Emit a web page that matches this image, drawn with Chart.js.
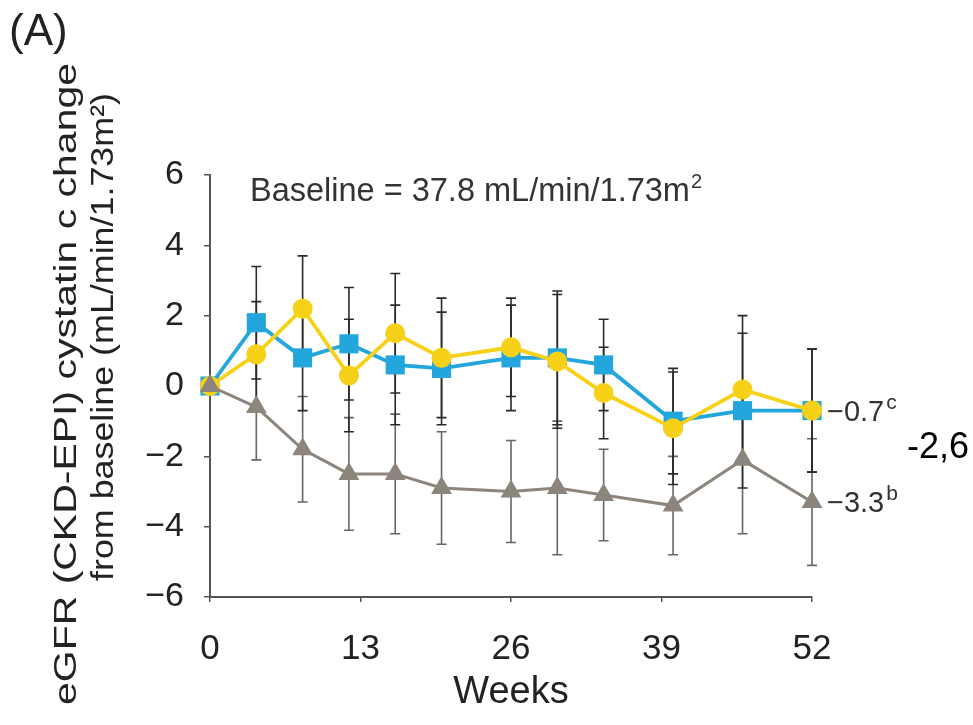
<!DOCTYPE html>
<html>
<head>
<meta charset="utf-8">
<script src="https://cdn.jsdelivr.net/npm/chart.js@4.4.1/dist/chart.umd.min.js"></script>
<style>
  html, body { margin: 0; padding: 0; background: #ffffff; }
  #wrap { width: 973px; height: 725px; position: relative; }
</style>
</head>
<body>
<div id="wrap"><canvas id="c" width="973" height="725"></canvas></div>
<script>
// ---- Data ----
const weeks = [0, 4, 8, 12, 16, 20, 26, 30, 34, 40, 46, 52];

const blueValues   = [0, 1.8, 0.8, 1.2, 0.6, 0.5, 0.8, 0.8, 0.6, -1.0, -0.7, -0.7];
const blueErrors   = [0, 1.6, 1.5, 1.6, 1.7, 1.6, 1.5, 1.9, 1.3, 1.5, 2.2, 1.75];

const yellowValues = [0, 0.9, 2.2, 0.3, 1.5, 0.8, 1.1, 0.7, -0.2, -1.2, -0.1, -0.7];
const yellowErrors = [0, 1.5, 1.5, 1.6, 1.7, 1.7, 1.4, 1.9, 1.3, 1.6, 2.1, 1.75];

const grayValues   = [0, -0.6, -1.8, -2.5, -2.5, -2.9, -3.0, -2.9, -3.1, -3.4, -2.1, -3.3];
const grayErrors   = [0, 1.5, 1.5, 1.6, 1.7, 1.6, 1.45, 1.9, 1.3, 1.4, 2.1, 1.8];

const xTickValues = [0, 13, 26, 39, 52];
const xTickLabels = ['0', '13', '26', '39', '52'];
const yTickValues = [-6, -4, -2, 0, 2, 4, 6];
const yTickLabels = ['\u22126', '\u22124', '\u22122', '0', '2', '4', '6'];

const panelLabel = '(A)';
const yTitleLines = ['eGFR (CKD-EPI) cystatin c change', 'from baseline (mL/min/1.73m\u00B2)'];
const xTitle = 'Weeks';
const baselineText = 'Baseline = 37.8 mL/min/1.73m';
const blueEndLabel = '\u22120.7';
const grayEndLabel = '\u22123.3';
const sideNote = '-2,6';

const FONT = "'Liberation Sans', Arial, sans-serif";

function pts(vals) { return weeks.map((w, i) => ({ x: w, y: vals[i] })); }

const errorBarPlugin = {
  id: 'errorBars',
  beforeDatasetsDraw(chart) {
    const { ctx, scales: { x, y } } = chart;
    chart.data.datasets.forEach((ds) => {
      if (!ds.errors) return;
      ctx.save();
      ctx.strokeStyle = ds.errorColor;
      ctx.lineWidth = 1.6;
      ds.data.forEach((p, j) => {
        const e = ds.errors[j];
        if (!e) return;
        const px = x.getPixelForValue(p.x);
        const top = y.getPixelForValue(p.y + e);
        const bot = y.getPixelForValue(p.y - e);
        ctx.beginPath();
        ctx.moveTo(px, top); ctx.lineTo(px, bot);
        ctx.moveTo(px - 5, top); ctx.lineTo(px + 5, top);
        ctx.moveTo(px - 5, bot); ctx.lineTo(px + 5, bot);
        ctx.stroke();
      });
      ctx.restore();
    });
  }
};

const textPlugin = {
  id: 'texts',
  afterDraw(chart) {
    const { ctx, scales: { x, y } } = chart;
    ctx.save();
    ctx.fillStyle = '#222';
    ctx.textBaseline = 'alphabetic';

    // panel label
    ctx.font = '44px ' + FONT;
    ctx.textAlign = 'left';
    ctx.fillText(panelLabel, 9, 45);

    // y-axis title (two rotated lines)
    ctx.font = '32px ' + FONT;
    ctx.textAlign = 'center';
    const placement = [[76, 384, 642], [113, 337, 488]]; // baseline x, centre y, length
    yTitleLines.forEach((line, i) => {
      const natural = ctx.measureText(line).width;
      ctx.save();
      ctx.translate(placement[i][0], placement[i][1]);
      ctx.rotate(-Math.PI / 2);
      ctx.scale(placement[i][2] / natural, 1);
      ctx.fillText(line, 0, 0);
      ctx.restore();
    });

    // x-axis title
    ctx.font = '38px ' + FONT;
    ctx.textAlign = 'center';
    ctx.fillText(xTitle, (x.left + x.right) / 2, 703);

    // baseline note
    ctx.font = '32.5px ' + FONT;
    ctx.textAlign = 'left';
    ctx.fillStyle = '#333';
    ctx.fillText(baselineText, 250, 201);
    let w = ctx.measureText(baselineText).width;
    ctx.font = '20px ' + FONT;
    ctx.fillText('2', 250 + w + 1, 188);

    // end-of-line labels
    const xe = x.getPixelForValue(weeks[weeks.length - 1]) + 15;
    const drawEnd = (txt, sup, val) => {
      const py = y.getPixelForValue(val) + 10;
      ctx.font = '29px ' + FONT;
      ctx.fillText(txt, xe, py);
      const ww = ctx.measureText(txt).width;
      ctx.font = '21px ' + FONT;
      ctx.fillText(sup, xe + ww + 2, py - 12);
    };
    drawEnd(blueEndLabel, 'c', blueValues[blueValues.length - 1]);
    drawEnd(grayEndLabel, 'b', grayValues[grayValues.length - 1]);

    // side note
    ctx.fillStyle = '#000';
    ctx.font = '36px ' + FONT;
    ctx.fillText(sideNote, 907, 458);
    ctx.restore();
  }
};

new Chart(document.getElementById('c'), {
  type: 'line',
  data: {
    datasets: [
      {
        label: 'Gray group', data: pts(grayValues), errors: grayErrors, errorColor: '#666',
        borderColor: '#8c857c', backgroundColor: '#8c857c', borderWidth: 3,
        pointStyle: 'triangle', pointRadius: 12, pointBorderWidth: 0, order: 1, clip: false
      },
      {
        label: 'Yellow group', data: pts(yellowValues), errors: yellowErrors, errorColor: '#2a2a2a',
        borderColor: '#f7d117', backgroundColor: '#f7d117', borderWidth: 3.8,
        pointStyle: 'circle', pointRadius: 10, pointBorderWidth: 0, order: 2, clip: false
      },
      {
        label: 'Blue group', data: pts(blueValues), errors: blueErrors, errorColor: '#2a2a2a',
        borderColor: '#22a6dc', backgroundColor: '#22a6dc', borderWidth: 3.8,
        pointStyle: 'rect', pointRadius: 13.5, pointBorderWidth: 0, order: 3, clip: false
      }
    ]
  },
  options: {
    responsive: false,
    animation: false,
    devicePixelRatio: 1,
    layout: { padding: { top: 175, right: 161, left: 0, bottom: 0 } },
    plugins: { legend: { display: false }, tooltip: { enabled: false } },
    elements: { line: { tension: 0 } },
    scales: {
      x: {
        type: 'linear', min: 0, max: 52,
        afterBuildTicks: (s) => { s.ticks = xTickValues.map(v => ({ value: v })); },
        afterFit: (s) => { s.height = 128; },
        ticks: {
          callback: (v) => xTickLabels[xTickValues.indexOf(v)],
          font: { size: 35, family: FONT }, color: '#222', padding: 26, maxRotation: 0
        },
        grid: { drawOnChartArea: false, drawTicks: true, tickLength: 5, color: '#555', lineWidth: 1.5 },
        border: { color: '#555', width: 2 }
      },
      y: {
        type: 'linear', min: -6, max: 6,
        afterBuildTicks: (s) => { s.ticks = yTickValues.map(v => ({ value: v })); },
        afterFit: (s) => { s.width = 210; },
        ticks: {
          callback: (v) => yTickLabels[yTickValues.indexOf(v)],
          font: { size: 34, family: FONT }, color: '#222', padding: 20
        },
        grid: { drawOnChartArea: false, drawTicks: true, tickLength: 6, color: '#555', lineWidth: 1.5 },
        border: { color: '#555', width: 2 }
      }
    }
  },
  plugins: [errorBarPlugin, textPlugin]
});
</script>
</body>
</html>
